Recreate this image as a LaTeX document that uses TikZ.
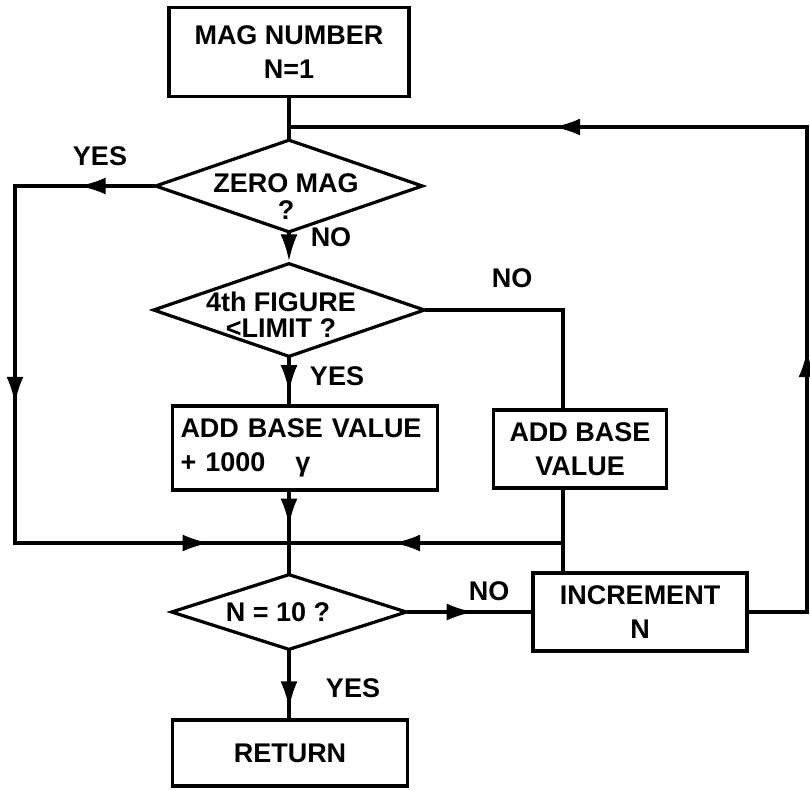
\documentclass[tikz,border=0pt]{standalone}
\usepackage{fontspec}
\setmainfont{Liberation Sans}
\usetikzlibrary{arrows.meta,positioning,shapes.geometric,decorations.markings,calc}

\tikzset{
  flowbox/.style={draw, rectangle, line width=3.2pt, inner sep=0pt},
  decision/.style={draw, diamond, line width=3.2pt, inner sep=0pt},
  flowline/.style={line width=3.2pt, line cap=rect},
  flowlabel/.style={inner sep=0pt},
  midtip/.style={postaction={decorate},
    decoration={markings, mark=at position #1 with {\arrow{Latex[length=27pt,width=17pt]}}}},
}

\begin{document}
\begin{tikzpicture}[x=1pt, y=-1pt, font=\fontsize{27pt}{34pt}\selectfont\bfseries]
    \useasboundingbox (0,0) rectangle (810,790);

    % Boxes
    \node[flowbox, minimum width=240pt, minimum height=89pt, align=center] (mag) at (289,52) {MAG NUMBER\\N=1};
    \node[flowbox, minimum width=265pt, minimum height=84pt, text width=249pt, align=left] (addbig) at (305,448) {ADD BASE VALUE\\+ 1000\hspace{30pt}γ};
    \node[flowbox, minimum width=173pt, minimum height=78pt, align=center] (addbase) at (580,449) {ADD BASE\\VALUE};
    \node[flowbox, minimum width=214pt, minimum height=78pt, align=center] (incr) at (640,612) {INCREMENT\\N};
    \node[flowbox, minimum width=235pt, minimum height=66pt] (ret) at (290,753) {RETURN};

    % Decisions
    \node[decision, minimum width=268pt, minimum height=93pt] (zero) at (289,186) {};
    \node[flowlabel, align=center] (zerotext) at (286,197) {ZERO MAG\\[-7pt]?};
    \node[decision, minimum width=272pt, minimum height=94pt] (fourth) at (289,310) {};
    \node[flowlabel, align=center] (fourthtext) at (281,315) {4th FIGURE\\[-8pt]<LIMIT ?};
    \node[decision, minimum width=236pt, minimum height=76pt] (ntest) at (289,612) {};
    \node[flowlabel] (ntesttext) at (278,612) {N = 10 ?};

    % Branch labels
    \foreach \nm/\x/\y/\txt in {yeszero/100/156/YES, nozero/331/237/NO, nofourth/512/278/NO,
                               yesfourth/337/376/YES, notest/489/591/NO, yestest/353/688/YES}
      \node[flowlabel] (\nm) at (\x,\y) {\txt};

    \coordinate (rtop) at (807,127);
    \coordinate (lbot) at (15,543);
    \coordinate (merge) at (289,543);
    \coordinate (rjoin) at (563,543);

    % Main trunk
    \draw[flowline] (mag) -- (zero);
    \draw[flowline, -{Latex[length=27pt,width=17pt]}] (zero.south) -- (fourth.north);
    \draw[flowline, midtip=0.73] (fourth.south) -- (addbig.north -| fourth.south);
    \draw[flowline, midtip=0.66] (addbig.south -| merge) -- (merge);
    \draw[flowline] (merge) -- (ntest.north);
    \draw[flowline, midtip=0.85] (ntest.south) -- (ret.north -| ntest.south);

    % Zero mag branch
    \draw[flowline, midtip=0.54] (zero.west) -- (zero.west -| lbot);
    \draw[flowline, midtip=0.61] (zero.west -| lbot) -- (lbot);
    \draw[flowline, midtip=0.71] (lbot) -- (merge);

    % Over limit branch
    \draw[flowline] (fourth.east) -| (addbase.north -| rjoin);
    \draw[flowline] (addbase.south -| rjoin) -- (incr.north -| rjoin);
    \draw[flowline, midtip=0.62] (rjoin) -- (merge);

    % Loop back
    \draw[flowline, midtip=0.53] (ntest.east) -- (incr.west);
    \draw[flowline] (incr.east) -- (incr.east -| rtop);
    \draw[flowline, midtip=0.54] (incr.east -| rtop) -- (rtop);
    \draw[flowline, midtip=0.49] (rtop) -- (rtop -| zero.north);
\end{tikzpicture}
\end{document}
